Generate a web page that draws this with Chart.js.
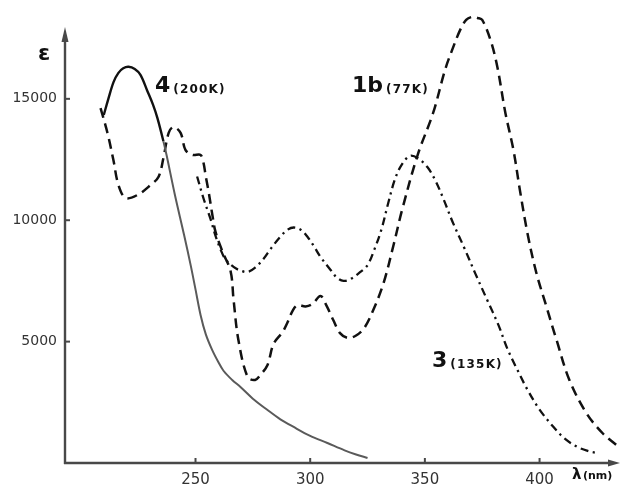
<!DOCTYPE html>
<html><head><meta charset="utf-8">
<script src="https://cdn.jsdelivr.net/npm/chart.js@4/dist/chart.umd.min.js"></script>
<style>html,body{margin:0;padding:0;background:#fff;}canvas{display:block;}</style>
</head><body>
<canvas id="c" width="620" height="487"></canvas>
<script>
// ---- data (wavelength nm, epsilon) ----
const wl4 = [210, 212, 214.3, 216.4, 218.5, 220.8, 223.5, 226, 229, 231.5, 233.4, 236, 237.4, 241, 245, 248, 250, 252.2, 254.5, 257.3, 260, 262.2, 266, 269.6, 275, 281.4, 287, 292.8, 300, 307.5, 315, 320, 325];
const eps4 = [14333, 15000, 15700, 16070, 16260, 16322, 16230, 15990, 15325, 14750, 14205, 13255, 12675, 11050, 9400, 8100, 7150, 6100, 5300, 4650, 4150, 3800, 3420, 3131, 2650, 2183, 1800, 1483, 1120, 824, 520, 350, 206];

const wl1b = [208.6, 211.6, 214.2, 216.4, 219.5, 224.7, 230.4, 233.9, 236.1, 238.3, 240.4, 243.5, 245.6, 248.7, 252.2, 253.5, 254.4, 255.7, 257.4, 258.7, 261.8, 265.3, 266.6, 268.7, 272.7, 276, 278.5, 281.4, 284, 288, 290, 292.5, 294.5, 298, 301, 304.5, 307, 310, 313, 316.5, 320, 323.5, 327.5, 332, 336.4, 340, 346.8, 353.6, 358.8, 361.9, 365.4, 368, 370.7, 373, 375, 378.6, 381.6, 385.1, 388.6, 391.5, 394.7, 398.5, 402.9, 407.3, 413, 420.4, 427.4, 433.5];
const eps1b = [14620, 13600, 12480, 11450, 10920, 11040, 11450, 11790, 12610, 13600, 13840, 13600, 12900, 12690, 12690, 12360, 11846, 11183, 10190, 9527, 8700, 7900, 6716, 5068, 3543, 3420, 3650, 4037, 4900, 5400, 5768, 6300, 6500, 6450, 6550, 6880, 6500, 5900, 5350, 5150, 5250, 5550, 6300, 7416, 9000, 10400, 12675, 14420, 16192, 17016, 17840, 18250, 18375, 18330, 18250, 17428, 16316, 14420, 12900, 11200, 9478, 7870, 6470, 5100, 3420, 2060, 1235, 740];

const wl3 = [250.7, 253.5, 256.5, 258.7, 260.9, 263, 266.6, 269.5, 272.7, 276, 279.6, 283, 287, 290, 292.8, 296, 298.8, 301.5, 304.5, 308.9, 311.5, 314.5, 318, 321.9, 325, 328, 331, 334, 337, 340, 343.5, 347, 351, 354.5, 358, 362, 367, 372, 377, 382, 386, 390, 394.7, 400, 406, 411, 416.5, 421, 425];
const eps3 = [11800, 10894, 10065, 9361, 8800, 8400, 8075, 7930, 7870, 8050, 8400, 8850, 9320, 9600, 9700, 9600, 9320, 8948, 8490, 7950, 7650, 7500, 7600, 7870, 8150, 8800, 9600, 10700, 11700, 12300, 12650, 12550, 12200, 11650, 10900, 9950, 8900, 7800, 6750, 5700, 4700, 3900, 3024, 2200, 1491, 1000, 663, 500, 414];

const xTicks = [250, 300, 350, 400];
const yTicks = [5000, 10000, 15000];

// label texts (placement in data units)
const curveLabels = [
  {main: '4', sub: '(200K)', x: 232.3, y: 15290},
  {main: '1b', sub: '(77K)', x: 318.2, y: 15290},
  {main: '3', sub: '(135K)', x: 353.1, y: 3956}
];

const toPts = (xs, ys) => xs.map((x, i) => ({x: x, y: ys[i]}));
const AXIS = '#484848';

const axesPlugin = {
  id: 'axes',
  beforeDatasetsDraw(chart) {
    const {ctx, chartArea: a, scales: {x, y}} = chart;
    ctx.save();
    ctx.strokeStyle = AXIS; ctx.fillStyle = AXIS; ctx.lineWidth = 2.4;
    const x0 = a.left, y0 = a.bottom;
    const yTop = 27;
    ctx.beginPath(); ctx.moveTo(x0, y0 + 1); ctx.lineTo(x0, yTop + 10); ctx.stroke();
    ctx.beginPath(); ctx.moveTo(x0, yTop); ctx.lineTo(x0 - 3.5, yTop + 15); ctx.lineTo(x0 + 3.5, yTop + 15); ctx.closePath(); ctx.fill();
    const xEnd = chart.width;
    ctx.beginPath(); ctx.moveTo(x0 - 1, y0); ctx.lineTo(xEnd - 8, y0); ctx.stroke();
    ctx.beginPath(); ctx.moveTo(xEnd, y0); ctx.lineTo(xEnd - 12, y0 - 3.5); ctx.lineTo(xEnd - 12, y0 + 3.5); ctx.closePath(); ctx.fill();
    ctx.lineWidth = 2;
    xTicks.forEach(v => { const px = x.getPixelForValue(v); ctx.beginPath(); ctx.moveTo(px, y0); ctx.lineTo(px, y0 - 5); ctx.stroke(); });
    yTicks.forEach(v => { const py = y.getPixelForValue(v); ctx.beginPath(); ctx.moveTo(x0, py); ctx.lineTo(x0 + 5, py); ctx.stroke(); });
    ctx.restore();
  },
  afterDatasetsDraw(chart) {
    const {ctx, chartArea: a, scales: {x, y}} = chart;
    ctx.save();
    ctx.fillStyle = '#111';
    ctx.textBaseline = 'alphabetic';
    ctx.textAlign = 'left';
    curveLabels.forEach(l => {
      const px = x.getPixelForValue(l.x), py = y.getPixelForValue(l.y);
      ctx.font = 'bold 22px "DejaVu Sans"';
      ctx.letterSpacing = '0px';
      ctx.fillText(l.main, px, py);
      const w = ctx.measureText(l.main).width;
      ctx.font = 'bold 12px "DejaVu Sans"';
      ctx.letterSpacing = '1.2px';
      ctx.fillText(l.sub, px + w + 3, py + 1);
    });
    ctx.letterSpacing = '0px';
    // axis titles
    ctx.font = 'bold 22px "DejaVu Sans"';
    ctx.textAlign = 'center';
    ctx.fillText('\u03b5', a.left - 21, 60);
    ctx.textAlign = 'left';
    ctx.font = 'bold 15px "DejaVu Sans"';
    ctx.fillText('\u03bb', 572, a.bottom + 16);
    ctx.font = 'bold 11px "DejaVu Sans"';
    ctx.fillText('(nm)', 583, a.bottom + 16);
    ctx.restore();
  }
};

new Chart(document.getElementById('c'), {
  type: 'line',
  data: {
    datasets: [
      {
        label: '4 (200K)', data: toPts(wl4, eps4), borderWidth: 2.4, borderColor: '#111',
        segment: {
          borderColor: c => (c.p0.parsed.x >= 236 ? '#5a5a5a' : '#111'),
          borderWidth: c => (c.p0.parsed.x >= 236 ? 2 : 2.4)
        }
      },
      {label: '1b (77K)', data: toPts(wl1b, eps1b), borderWidth: 2.5, borderColor: '#111', borderDash: [10, 6]},
      {label: '3 (135K)', data: toPts(wl3, eps3), borderWidth: 2.3, borderColor: '#111', borderDash: [8, 4.5, 2.2, 4.5]}
    ]
  },
  options: {
    responsive: false, animation: false, devicePixelRatio: 1,
    layout: {padding: {top: 26, right: 2, left: 0, bottom: 0}},
    plugins: {legend: {display: false}, tooltip: {enabled: false}},
    elements: {point: {radius: 0}, line: {tension: 0.35, fill: false}},
    datasets: {line: {clip: false}},
    scales: {
      x: {
        type: 'linear', min: 193.1, max: 434.2,
        afterFit(s) { s.height = 24; },
        afterBuildTicks(s) { s.ticks = xTicks.map(v => ({value: v})); },
        grid: {display: false, drawTicks: false}, border: {display: false},
        ticks: {padding: 8, autoSkip: false, maxRotation: 0, color: '#333', font: {family: 'DejaVu Sans', size: 15}, callback: v => String(v)}
      },
      y: {
        type: 'linear', min: 0, max: 18000,
        afterFit(s) { s.width = 65; },
        afterBuildTicks(s) { s.ticks = yTicks.map(v => ({value: v})); },
        grid: {display: false, drawTicks: false}, border: {display: false},
        ticks: {padding: 8, autoSkip: false, color: '#333', font: {family: 'DejaVu Sans', size: 14}, callback: v => String(v)}
      }
    }
  },
  plugins: [axesPlugin]
});
</script>
</body></html>
